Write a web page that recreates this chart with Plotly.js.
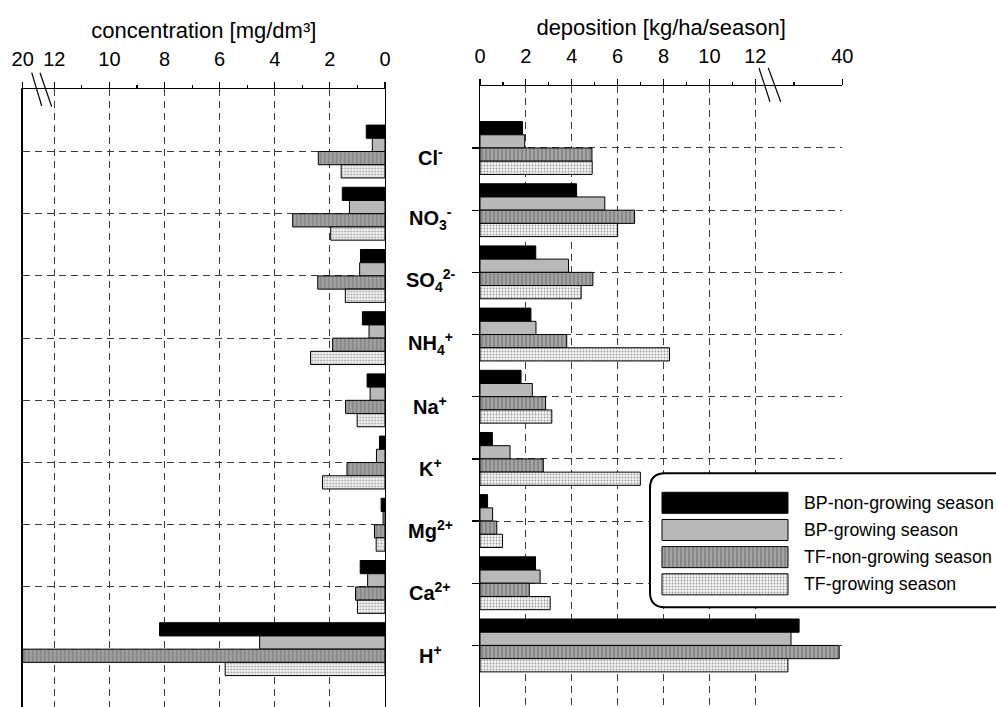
<!DOCTYPE html>
<html>
<head>
<meta charset="utf-8">
<script src="https://cdn.plot.ly/plotly-3.0.1.min.js"></script>
<style>html,body{margin:0;padding:0;background:#fff;}#chart{width:996px;height:707px;}</style>
</head>
<body>
<div id="chart"></div>
<script>
// ---------- data ----------
var ions = ['Cl-','NO3-','SO42-','NH4+','Na+','K+','Mg2+','Ca2+','H+'];
var ionLabels = ['Cl<sup>-</sup>','NO<sub>3</sub><sup>-</sup>','SO<sub>4</sub><sup>2-</sup>','NH<sub>4</sub><sup>+</sup>','Na<sup>+</sup>','K<sup>+</sup>','Mg<sup>2+</sup>','Ca<sup>2+</sup>','H<sup>+</sup>'];
var seriesNames = ['BP-non-growing season','BP-growing season','TF-non-growing season','TF-growing season'];

// concentration [mg/dm3]
var concBPnon  = [0.68,1.55,0.89,0.82,0.65,0.20,0.14,0.90,8.18];
var concBPgrow = [0.46,1.29,0.92,0.58,0.54,0.31,0.07,0.63,4.55];
var concTFnon  = [2.42,3.35,2.44,1.90,1.43,1.38,0.38,1.07,20.0];
var concTFgrow = [1.59,1.97,1.44,2.70,1.01,2.27,0.32,1.00,5.80];

// deposition [kg/ha/season]
var depBPnon  = [1.85,4.21,2.43,2.22,1.79,0.54,0.33,2.42,26.1];
var depBPgrow = [1.95,5.44,3.86,2.44,2.28,1.31,0.55,2.62,23.5];
var depTFnon  = [4.88,6.74,4.92,3.78,2.86,2.76,0.73,2.15,39.0];
var depTFgrow = [4.89,6.00,4.41,8.26,3.13,6.99,0.98,3.06,22.5];

// tick labels
var concTickText = ['0','2','4','6','8','10','12','20'];
var concTickVals = [0,2,4,6,8,10,12,20];
var depTickText  = ['0','2','4','6','8','10','12','40'];
var depTickVals  = [0,2,4,6,8,10,12,40];

// ---------- broken-axis mapping ----------
var BRK = 12;
function breakMap(maxVal, maxDisp) {
  var s = (maxDisp - BRK) / (maxVal - BRK);
  return function(v){ return v <= BRK ? v : BRK + (v - BRK) * s; };
}
var concMap = breakMap(20, 13.147);
var depMap  = breakMap(40, 15.793);

// ---------- styles ----------
var W = 996, H = 707;
function px(x){ return x / W; }
function py(y){ return 1 - y / H; }
var FONT = 'Liberation Sans, Arial, Helvetica, sans-serif';
var GRID = '7px,5px';
var GRIDCOLOR = '#3a3a3a';
var styles = [
  {color:'#000000'},
  {color:'#b9b9b9'},
  {color:'#a4a4a4', pattern:{shape:'|', fgcolor:'#7c7c7c', bgcolor:'#a4a4a4', size:4, solidity:0.35, fillmode:'replace'}},
  {color:'#f3f3f3', pattern:{shape:'.', fgcolor:'#9c9c9c', bgcolor:'#f6f6f6', size:3, solidity:0.3, fillmode:'replace'}}
];
function mk(i){
  var m = {color: styles[i].color, line:{color:'#000', width:1}};
  if (styles[i].pattern) m.pattern = styles[i].pattern;
  return m;
}

var concSeries = [concBPnon, concBPgrow, concTFnon, concTFgrow];
var depSeries  = [depBPnon, depBPgrow, depTFnon, depTFgrow];

var traces = [];
concSeries.forEach(function(arr, i){
  traces.push({type:'bar', orientation:'h', name:seriesNames[i], y:ions, x:arr.map(concMap),
    xaxis:'x', yaxis:'y', marker:mk(i), showlegend:false, hoverinfo:'skip'});
});
depSeries.forEach(function(arr, i){
  traces.push({type:'bar', orientation:'h', name:seriesNames[i], y:ions, x:arr.map(depMap),
    xaxis:'x2', yaxis:'y2', marker:mk(i), showlegend:false, hoverinfo:'skip'});
});
// custom legend swatches
seriesNames.forEach(function(n, i){
  traces.push({type:'bar', orientation:'h', name:n, y:[i], x:[1], width:0.773, offsetgroup:'leg',
    xaxis:'x3', yaxis:'y3', marker:mk(i), showlegend:false, hoverinfo:'skip'});
});

var tickFont = {family:FONT, size:20, color:'#000'};
var titleFont = {family:FONT, size:22, color:'#000'};

var layout = {
  width:W, height:H,
  margin:{l:0, r:0, t:0, b:0},
  paper_bgcolor:'#fff', plot_bgcolor:'rgba(0,0,0,0)',
  barmode:'group', bargap:0.15, bargroupgap:0,
  showlegend:false,
  font:{family:FONT, color:'#000'},
  xaxis:{
    domain:[px(22.7), px(385)], anchor:'y', side:'top',
    range:[13.147, 0], tickmode:'array', tickvals:concTickVals.map(concMap), ticktext:concTickText,
    ticks:'outside', ticklen:6, tickcolor:'#000', tickwidth:1.2, ticklabelstandoff:8,
    showline:true, linecolor:'#000', linewidth:1.3,
    showgrid:true, gridcolor:GRIDCOLOR, griddash:GRID, gridwidth:1, zeroline:false,
    minor:{tickvals:[1,3,5,7,9,11], ticks:'outside', ticklen:3, tickcolor:'#000', showgrid:false},
    tickfont:tickFont,
    title:{text:'concentration [mg/dm³]', font:titleFont, standoff:3},
    fixedrange:true
  },
  yaxis:{
    domain:[0, py(89)], anchor:'x', type:'category', categoryorder:'array', categoryarray:ions,
    range:[8.93, -1.005], showline:true, mirror:true, linecolor:'#000', linewidth:1.3,
    ticks:'', showticklabels:false, showgrid:true, gridcolor:GRIDCOLOR, griddash:GRID, gridwidth:1,
    zeroline:false, fixedrange:true
  },
  xaxis2:{
    domain:[px(480), px(842.3)], anchor:'y2', side:'top',
    range:[0, 15.793], tickmode:'array', tickvals:depTickVals.map(depMap), ticktext:depTickText,
    ticks:'outside', ticklen:6, tickcolor:'#000', tickwidth:1.2, ticklabelstandoff:8,
    showline:true, linecolor:'#000', linewidth:1.3,
    showgrid:true, gridcolor:GRIDCOLOR, griddash:GRID, gridwidth:1, zeroline:false,
    minor:{tickvals:[1,3,5,7,9,11,13.69], ticks:'outside', ticklen:3, tickcolor:'#000', showgrid:false},
    tickfont:tickFont,
    title:{text:'deposition [kg/ha/season]', font:titleFont, standoff:3},
    fixedrange:true
  },
  yaxis2:{
    domain:[0, py(86)], anchor:'x2', type:'category', categoryorder:'array', categoryarray:ions,
    range:[8.99, -0.997], showline:true, linecolor:'#000', linewidth:1.3,
    ticks:'outside', ticklen:7, tickcolor:'#000', tickwidth:1.2, showticklabels:false,
    showgrid:true, gridcolor:GRIDCOLOR, griddash:GRID, gridwidth:1, zeroline:false, fixedrange:true
  },
  xaxis3:{domain:[px(647), 1], anchor:'y3', range:[-0.119, 2.651], visible:false, fixedrange:true},
  yaxis3:{domain:[py(612), py(468)], anchor:'x3', range:[4.019, -1.281], visible:false, fixedrange:true},
  annotations:[],
  shapes:[]
};

// ion labels in the middle
ions.forEach(function(c, i){
  layout.annotations.push({xref:'paper', yref:'y', x:px(430), y:c, text:'<b>'+ionLabels[i]+'</b>',
    showarrow:false, xanchor:'center', yanchor:'middle', yshift:-5,
    font:{family:FONT, size:20, color:'#000'}});
});
// legend labels
seriesNames.forEach(function(n, i){
  layout.annotations.push({xref:'x3', yref:'y3', x:1.111, y:i, text:n, showarrow:false,
    xanchor:'left', yanchor:'middle', font:{family:FONT, size:17.8, color:'#000'}});
});

// legend box with rounded left corners (in legend subplot coords)
(function(){
  var x0=-0.0952, x1=3.0, y0=-1.086, y1=3.846, rx=0.119, ry=0.552;
  var p = 'M'+(x0+rx)+','+y0+' L'+x1+','+y0+' L'+x1+','+y1+' L'+(x0+rx)+','+y1+
          ' Q'+x0+','+y1+' '+x0+','+(y1-ry)+' L'+x0+','+(y0+ry)+' Q'+x0+','+y0+' '+(x0+rx)+','+y0+' Z';
  layout.shapes.push({type:'path', xref:'x3', yref:'y3', path:p, layer:'below',
    fillcolor:'#fff', line:{color:'#000', width:2}});
})();

// axis-break marks
function brkLine(xa, ya, xb, yb){
  layout.shapes.push({type:'line', xref:'paper', yref:'paper', x0:px(xa), y0:py(ya), x1:px(xb), y1:py(yb),
    layer:'above', line:{color:'#000', width:1.2}});
}
brkLine(31.7, 72.7, 41.7, 106);
brkLine(40, 72.7, 51.7, 106.7);
brkLine(759, 68, 770, 101.7);
brkLine(768.3, 68, 780.7, 101.7);

Plotly.newPlot('chart', traces, layout, {staticPlot:true, displayModeBar:false});
</script>
</body>
</html>
